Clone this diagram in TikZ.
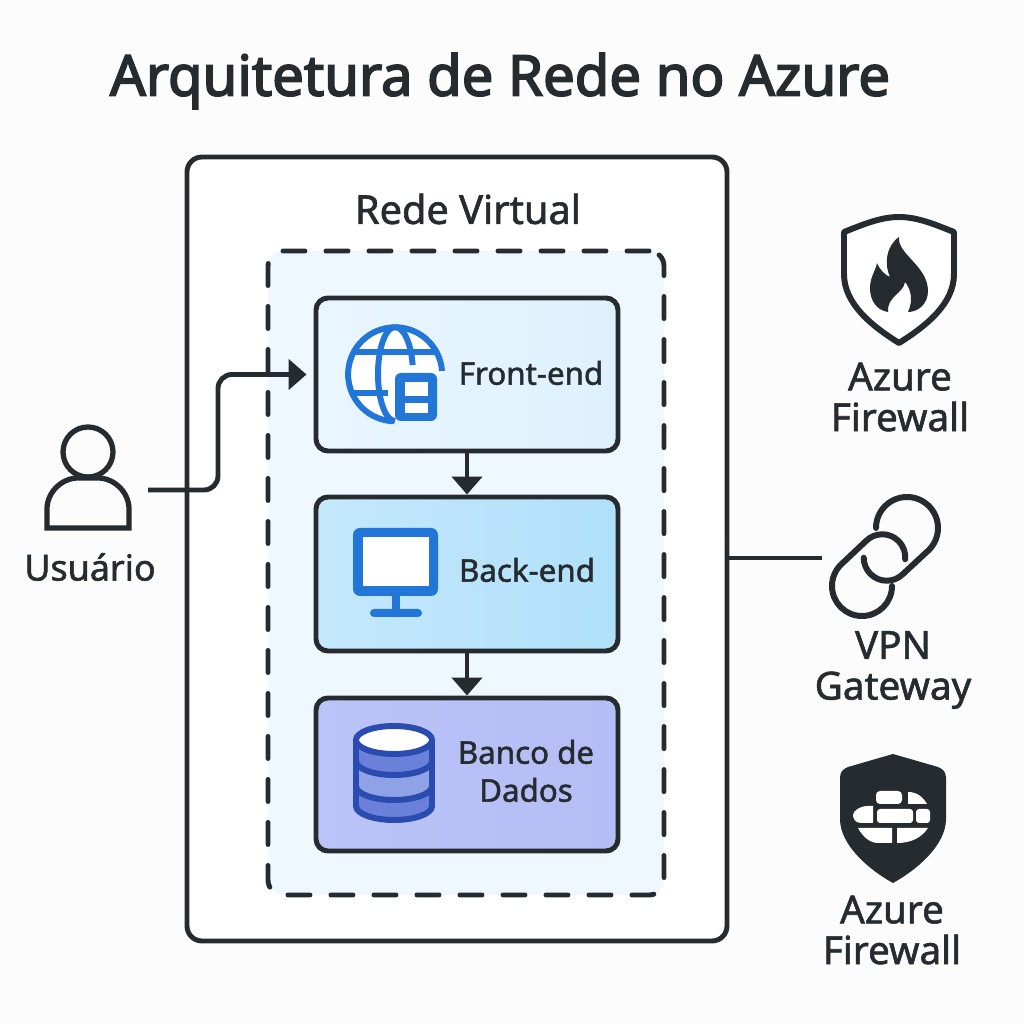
\documentclass[tikz,border=0pt]{standalone}
\usepackage{fontspec}
\setmainfont{Noto Sans}
\newfontfamily\titlefont[FakeBold=3]{Noto Sans}
\newfontfamily\labelfont[FakeBold=1.5]{Noto Sans}
\usetikzlibrary{arrows.meta}
\definecolor{inkdark}{HTML}{262B2F}
\definecolor{pagebg}{HTML}{FCFCFD}
\definecolor{vnetbg}{HTML}{EEF8FE}
\definecolor{iconblue}{HTML}{2176D8}
\definecolor{dbline}{HTML}{2A4BB0}
\definecolor{dbfill}{HTML}{6B80D8}
\definecolor{dbband}{HTML}{8FA2E6}
\definecolor{frontleft}{HTML}{EAF6FE}
\definecolor{frontright}{HTML}{DDF1FD}
\definecolor{backleft}{HTML}{C5E8FC}
\definecolor{backright}{HTML}{B0E0FA}
\definecolor{dbleft}{HTML}{BAC4F8}
\definecolor{dbright}{HTML}{B4BEF6}
\tikzset{
  tierbox/.style={draw=inkdark,line width=1.4pt,rounded corners=0.12cm,minimum width=3.02cm,minimum height=1.53cm},
  tierlabel/.style={text=inkdark,font=\fontsize{8.9}{10.8}\labelfont,align=center},
  sidelabel/.style={text=inkdark,font=\fontsize{11}{11.6}\labelfont,align=center},
  flowarrow/.style={draw=inkdark,line width=1.4pt,-{Triangle[width=3mm,length=1.8mm]}},
  iconline/.style={draw=inkdark,line width=1.5pt}
}
\begin{document}
\begin{tikzpicture}
\useasboundingbox (0,0) rectangle (10.24,10.24);
\fill[pagebg] (0,0) rectangle (10.24,10.24);
\node[text=inkdark,font=\fontsize{16}{20}\titlefont] (title) at (5.00,9.43) {Arquitetura de Rede no Azure};
\node[draw=inkdark,fill=white,line width=1.4pt,rounded corners=0.15cm,minimum width=5.40cm,minimum height=7.84cm] (outer) at (4.57,4.75) {};
\node[text=inkdark,font=\fontsize{11.3}{14}\labelfont] (vnetlabel) at (4.68,8.15) {Rede Virtual};
\node[draw=inkdark,fill=vnetbg,line width=1.4pt,line cap=round,dash pattern=on 0.22cm off 0.21cm,rounded corners=0.15cm,minimum width=3.96cm,minimum height=6.44cm] (vnet) at (4.66,4.51) {};
\node[tierbox,left color=frontleft,right color=frontright] (front) at (4.67,6.495) {};
\node[tierbox,left color=backleft,right color=backright,minimum height=1.54cm] (back) at (4.67,4.50) {};
\node[tierbox,left color=dbleft,right color=dbright] (db) at (4.67,2.495) {};
\node[tierlabel] (frontlabel) at (5.31,6.51) {Front-end};
\node[tierlabel] (backlabel) at (5.27,4.54) {Back-end};
\node[tierlabel] (dblabel) at (5.26,2.53) {Banco de\\Dados};
\draw[flowarrow] (front) -- (back);
\draw[flowarrow] (back) -- (db);
% globo
\fill[white] (3.95,6.50) -- (4.42,6.50) arc (0:270:0.47) -- cycle;
\draw[iconblue,line width=1.7pt] (4.42,6.53) arc (4:268:0.47);
\draw[iconblue,line width=1.7pt] (3.95,6.97) arc [start angle=90,end angle=270,x radius=0.17,y radius=0.47];
\draw[iconblue,line width=1.7pt] (3.95,6.97) arc [start angle=90,end angle=11,x radius=0.18,y radius=0.47];
\draw[iconblue,line width=1.7pt] (3.53,6.72) -- (4.37,6.72);
\draw[iconblue,line width=1.7pt] (3.50,6.31) -- (3.88,6.31);
\fill[iconblue,rounded corners=0.06cm] (3.95,6.51) rectangle (4.37,6.03);
\fill[white] (4.05,6.42) rectangle (4.28,6.28);
\fill[white] (4.05,6.21) rectangle (4.28,6.11);
% monitor
\fill[iconblue,rounded corners=0.07cm] (3.53,4.96) rectangle (4.38,4.28);
\fill[white] (3.63,4.87) rectangle (4.29,4.38);
\fill[iconblue] (3.92,4.28) rectangle (4.00,4.10);
\fill[iconblue,rounded corners=0.04cm] (3.70,4.15) rectangle (4.22,4.07);
% banco
\fill[dbfill] (3.56,2.84) -- (3.56,2.18) arc [start angle=180,end angle=360,x radius=0.38,y radius=0.14] -- (4.32,2.84) -- cycle;
\fill[dbband] (3.56,2.63) arc [start angle=180,end angle=360,x radius=0.38,y radius=0.14] -- (4.32,2.38) arc [start angle=0,end angle=-180,x radius=0.38,y radius=0.14] -- cycle;
\draw[dbline,line width=1.7pt] (3.56,2.84) -- (3.56,2.18) arc [start angle=180,end angle=360,x radius=0.38,y radius=0.14] -- (4.32,2.84);
\draw[dbline,line width=1.7pt] (3.56,2.63) arc [start angle=180,end angle=360,x radius=0.38,y radius=0.14];
\draw[dbline,line width=1.7pt] (3.56,2.38) arc [start angle=180,end angle=360,x radius=0.38,y radius=0.14];
\draw[dbline,fill=white,line width=1.7pt] (3.94,2.84) ellipse (0.38 and 0.14);
% usuario
\draw[iconline] (0.88,5.72) circle (0.25);
\draw[iconline] (0.47,4.96) -- (0.47,5.15) .. controls (0.47,5.32) and (0.62,5.46) .. (0.78,5.46) -- (0.98,5.46) .. controls (1.14,5.46) and (1.29,5.32) .. (1.29,5.15) -- (1.29,4.96) -- cycle;
\node[sidelabel,font=\fontsize{10.2}{12}\labelfont] (userlabel) at (0.90,4.57) {Usuário};
\coordinate (userout) at (1.48,5.34);
\coordinate (bend) at (2.18,5.34);
\draw[flowarrow,rounded corners=0.14cm,shorten >=0.7mm] (userout) -- (bend) -- (bend |- front.west) -- (front.west);
% escudo com chama
\draw[iconline,line width=1.7pt,fill=white,line join=round] (8.99,8.07) .. controls (8.80,8.07) and (8.62,7.99) .. (8.44,7.92) -- (8.44,7.50) .. controls (8.44,7.20) and (8.72,6.98) .. (8.99,6.81) .. controls (9.26,6.98) and (9.54,7.20) .. (9.54,7.50) -- (9.54,7.92) .. controls (9.36,7.99) and (9.18,8.07) .. (8.99,8.07) -- cycle;
\fill[inkdark] (8.99,7.87) .. controls (8.97,7.70) and (9.28,7.58) .. (9.28,7.33) .. controls (9.28,7.20) and (9.18,7.12) .. (9.08,7.12) .. controls (9.14,7.25) and (9.10,7.36) .. (9.05,7.42) .. controls (9.03,7.30) and (8.87,7.28) .. (8.88,7.12) .. controls (8.76,7.14) and (8.70,7.24) .. (8.70,7.36) .. controls (8.70,7.47) and (8.76,7.54) .. (8.77,7.61) .. controls (8.80,7.54) and (8.85,7.49) .. (8.90,7.47) .. controls (8.84,7.60) and (8.86,7.78) .. (8.99,7.87) -- cycle;
\node[sidelabel] (fwlabelone) at (9.00,6.27) {Azure\\Firewall};
% elos da VPN
\coordinate (vpnlink) at (8.22,4.66);
\draw[iconline,line width=1.4pt] (outer.east |- vpnlink) -- (vpnlink);
\draw[iconline,line width=1.7pt,line cap=round] (8.76,4.96) arc (180:-45:0.31) -- (9.03,4.50) arc (-45:-180:0.23);
\draw[iconline,line width=1.7pt,line cap=round] (8.92,4.38) arc (0:-225:0.30) -- (8.66,4.83) arc (135:-5:0.23);
\node[sidelabel] (vpnlabel) at (8.93,3.54) {VPN\\Gateway};
% escudo com tijolos
\fill[inkdark] (8.93,2.70) -- (9.38,2.57) .. controls (9.43,2.55) and (9.46,2.52) .. (9.46,2.46) -- (9.46,2.05) .. controls (9.46,1.78) and (9.15,1.53) .. (8.93,1.41) .. controls (8.71,1.53) and (8.40,1.78) .. (8.40,2.05) -- (8.40,2.46) .. controls (8.40,2.52) and (8.43,2.55) .. (8.48,2.57) -- cycle;
\fill[white,rounded corners=0.04cm] (8.76,2.20) rectangle (9.02,2.33);
\fill[white] (9.08,2.20) -- (9.08,2.32) .. controls (9.17,2.32) and (9.23,2.27) .. (9.27,2.20) -- cycle;
\fill[white] (8.73,2.18) -- (8.73,2.01) -- (8.61,2.01) .. controls (8.55,2.01) and (8.53,2.06) .. (8.53,2.09) .. controls (8.53,2.13) and (8.60,2.18) .. (8.68,2.18) -- cycle;
\fill[white,rounded corners=0.03cm] (8.77,2.01) rectangle (9.13,2.15);
\fill[white,rounded corners=0.03cm] (9.16,2.01) rectangle (9.30,2.15);
\fill[white] (8.58,1.96) -- (8.92,1.96) -- (8.92,1.81) -- (8.78,1.81) .. controls (8.70,1.81) and (8.63,1.87) .. (8.58,1.96) -- cycle;
\fill[white] (8.97,1.96) -- (9.28,1.96) .. controls (9.22,1.87) and (9.12,1.81) .. (8.97,1.81) -- cycle;
\node[sidelabel] (fwlabeltwo) at (8.92,0.94) {Azure\\Firewall};
\end{tikzpicture}
\end{document}
